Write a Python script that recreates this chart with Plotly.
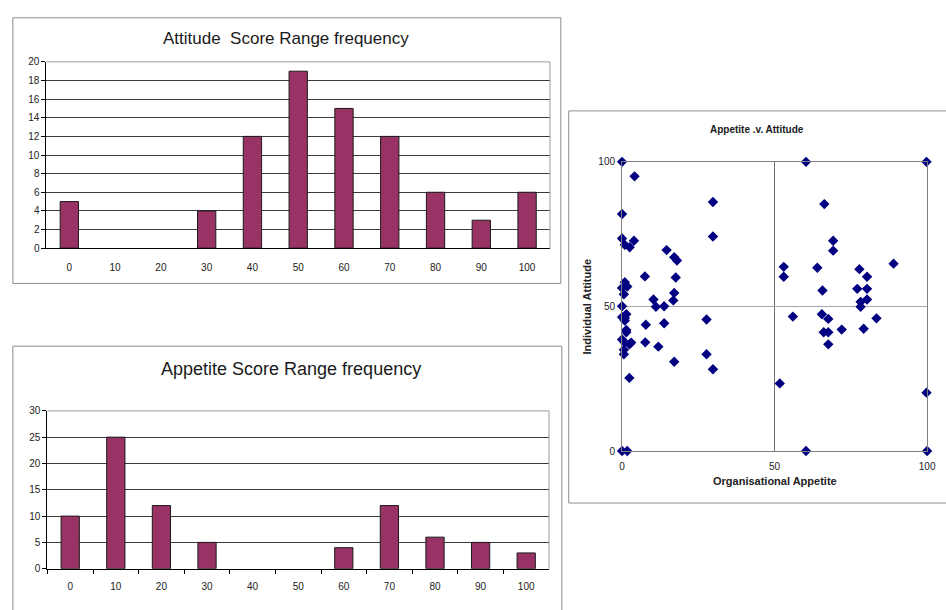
import plotly.graph_objects as go

# ---- data -------------------------------------------------------------
score_bins = ["0", "10", "20", "30", "40", "50", "60", "70", "80", "90", "100"]
attitude_freq = [5, 0, 0, 4, 12, 19, 15, 12, 6, 3, 6]
appetite_freq = [10, 25, 12, 5, 0, 0, 4, 12, 6, 5, 3]

organisational_appetite = [
    0, 4.1, 29.8, 0, 29.8, 0, 0.9, 2.5, 3.9, 14.6, 17.1, 18.0, 7.5, 17.6,
    0.9, 1.7, 0, 0.6, 10.3, 11.1, 13.8, 17.1, 16.8, 0, 0, 0.9, 1.4, 0.9,
    1.4, 1.4, 7.8, 13.8, 27.7, 0, 0.9, 3.0, 2.4, 0.6, 0.6, 7.6, 11.9, 27.7,
    17.1, 29.8, 2.4, 0, 1.7,
    60.3, 99.8, 66.3, 69.2, 69.2, 53.0, 53.0, 64.0, 77.8, 89.0, 80.3, 65.7,
    77.1, 80.3, 80.3, 78.2, 78.2, 56.0, 65.5, 67.6, 66.1, 67.6, 72.0, 79.2,
    83.4, 67.6, 51.7, 99.8, 60.3, 100,
]
individual_attitude = [
    100, 95.0, 86.1, 82.0, 74.2, 73.5, 71.3, 70.5, 72.7, 69.5, 67.0, 65.9, 60.4, 60.0,
    58.4, 56.9, 56.4, 54.2, 52.4, 49.9, 50.1, 54.7, 52.1, 50.1, 46.3, 45.9, 47.3, 45.1,
    41.9, 41.1, 43.7, 44.2, 45.5, 38.6, 37.5, 37.5, 36.9, 35.0, 33.5, 37.6, 36.1, 33.5,
    30.9, 28.3, 25.3, 0, 0,
    100, 100, 85.4, 72.7, 69.3, 63.7, 60.3, 63.4, 62.9, 64.8, 60.3, 55.5,
    56.1, 56.1, 52.4, 51.6, 49.9, 46.5, 47.3, 45.7, 41.1, 41.1, 42.0, 42.3,
    45.9, 36.9, 23.4, 20.2, 0, 0,
]

# ---- styling ----------------------------------------------------------
W, H = 946, 610
FONT = "Liberation Sans, Arial, sans-serif"
BAR_FILL = "#993366"
MARKER = "#000080"
BOX = "#8c8c8c"
GRID = "#3a3a3a"


def fx(px):
    return px / W


def fy(py):
    return 1 - py / H


def outline_widths(values):
    # empty bins get no outline so nothing is drawn for them
    return [1 if v > 0 else 0 for v in values]


fig = go.Figure()

fig.add_trace(go.Bar(
    x=score_bins, y=attitude_freq, width=0.4,
    marker=dict(color=BAR_FILL,
                line=dict(color="#1a1a1a", width=outline_widths(attitude_freq))),
    xaxis="x", yaxis="y", showlegend=False,
))
fig.add_trace(go.Bar(
    x=score_bins, y=appetite_freq, width=0.4,
    marker=dict(color=BAR_FILL,
                line=dict(color="#1a1a1a", width=outline_widths(appetite_freq))),
    xaxis="x2", yaxis="y2", showlegend=False,
))
fig.add_trace(go.Scatter(
    x=organisational_appetite, y=individual_attitude, mode="markers",
    marker=dict(symbol="diamond", size=8, color=MARKER),
    cliponaxis=False, xaxis="x3", yaxis="y3", showlegend=False,
))

tick_font = dict(family=FONT, size=10, color="#222222")

bar_x_common = dict(
    type="category", showline=True, linecolor="#000000", linewidth=1,
    showgrid=False, zeroline=False, tickfont=tick_font, range=[-0.5, 10.5],
)
bar_y_common = dict(
    showline=True, linecolor="#000000", linewidth=1, showgrid=True,
    gridcolor=GRID, gridwidth=1, zeroline=False, ticks="outside",
    ticklen=4, tickcolor="#000000", tickfont=tick_font,
)

fig.update_layout(
    width=W, height=H, margin=dict(l=0, r=0, t=0, b=0),
    paper_bgcolor="white", plot_bgcolor="white",
    font=dict(family=FONT, color="#222222"),
    xaxis=dict(domain=[fx(44), fx(554)], anchor="y", ticks="",
               ticklabelstandoff=10, **bar_x_common),
    yaxis=dict(domain=[fy(247), fy(57)], anchor="x", range=[0, 20], dtick=2,
               **bar_y_common),
    xaxis2=dict(domain=[fx(45), fx(553)], anchor="y2", ticks="outside",
                tickson="boundaries", ticklen=4, tickcolor="#000000",
                ticklabelstandoff=8, **bar_x_common),
    yaxis2=dict(domain=[fy(574), fy(413)], anchor="x2", range=[0, 30], dtick=5,
                **bar_y_common),
    xaxis3=dict(domain=[fx(627), fx(936)], anchor="y3", range=[0, 100],
                tickvals=[0, 50, 100], showgrid=True, gridcolor="#707070",
                showline=True, mirror=True, linecolor="#808080", zeroline=False,
                ticks="", ticklabelstandoff=6, tickfont=tick_font),
    yaxis3=dict(domain=[fy(454), fy(159)], anchor="x3", range=[0, 100],
                tickvals=[0, 50, 100], showgrid=True, gridcolor="#a8a8a8",
                showline=True, mirror=True, linecolor="#808080", zeroline=False,
                ticks="", ticklabelstandoff=4, tickfont=tick_font),
)

shapes = []
# chart frames
for x0, y0, x1, y1 in [(10, 12, 565, 283), (10, 347, 566, 640), (573, 107, 980, 507)]:
    shapes.append(dict(type="rect", xref="paper", yref="paper",
                       x0=fx(x0), x1=fx(x1), y0=fy(y1), y1=fy(y0),
                       line=dict(color=BOX, width=1), layer="below"))
# light top/right plot-area borders on the bar charts
for xr, yr in [("x", "y"), ("x2", "y2")]:
    shapes.append(dict(type="line", xref=f"{xr} domain", yref=f"{yr} domain",
                       x0=0, x1=1, y0=1, y1=1,
                       line=dict(color="#9a9a9a", width=1), layer="above"))
    shapes.append(dict(type="line", xref=f"{xr} domain", yref=f"{yr} domain",
                       x0=1, x1=1, y0=0, y1=1,
                       line=dict(color="#9a9a9a", width=1), layer="above"))
fig.update_layout(shapes=shapes)

annotations = [
    dict(text="Attitude  Score Range frequency", x=fx(287), y=fy(33),
         font=dict(family=FONT, size=17, color="#1a1a1a")),
    dict(text="Appetite Score Range frequency", x=fx(292), y=fy(370),
         font=dict(family=FONT, size=18, color="#1a1a1a")),
    dict(text="<b>Appetite .v. Attitude</b>", x=fx(764), y=fy(126),
         font=dict(family=FONT, size=10, color="#1a1a1a")),
    dict(text="<b>Organisational Appetite</b>", x=fx(782), y=fy(485),
         font=dict(family=FONT, size=11, color="#222222")),
    dict(text="<b>Individual Attitude</b>", x=fx(591), y=fy(307), textangle=-90,
         font=dict(family=FONT, size=11, color="#222222")),
]
for a in annotations:
    a.update(xref="paper", yref="paper", showarrow=False,
             xanchor="center", yanchor="middle")
fig.update_layout(annotations=annotations)

fig.write_html("out.html")
